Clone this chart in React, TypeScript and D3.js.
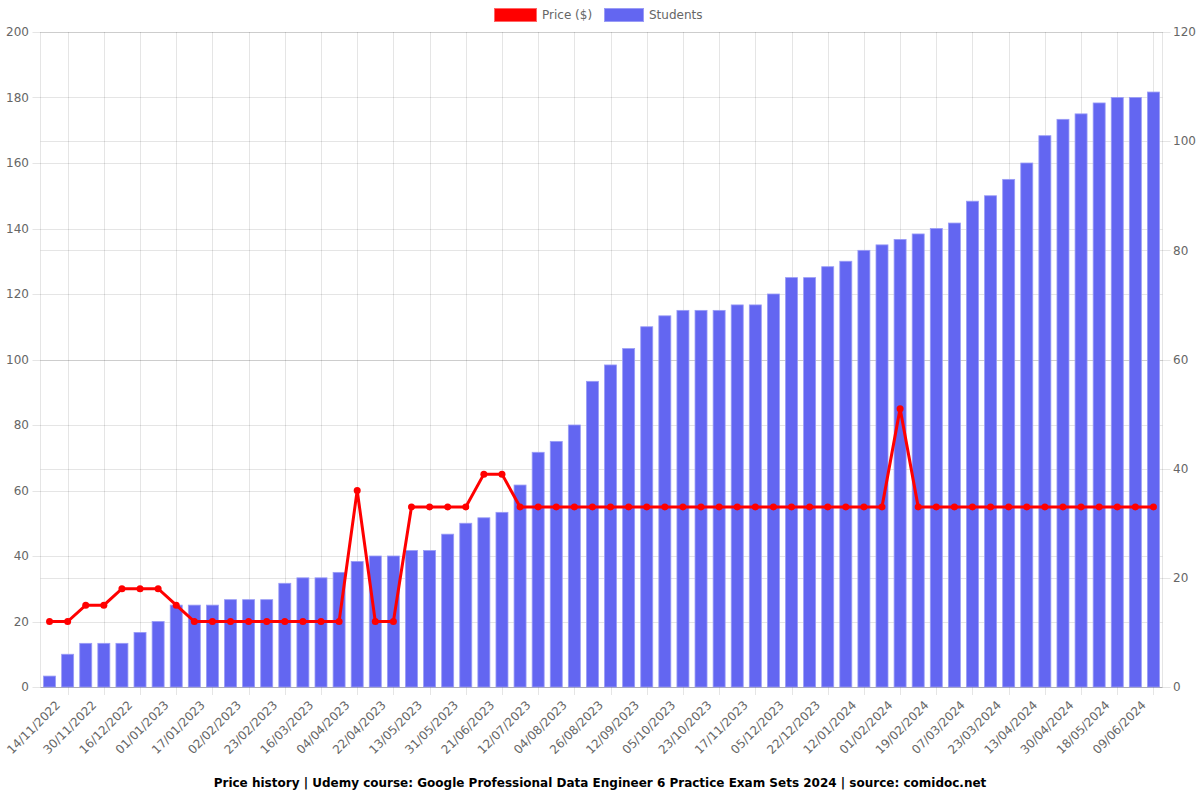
import React from "react";
import * as d3 from "d3";

const dates = [
  "14/11/2022", "22/11/2022", "30/11/2022", "08/12/2022", "16/12/2022", "24/12/2022",
  "01/01/2023", "09/01/2023", "17/01/2023", "25/01/2023", "02/02/2023", "12/02/2023",
  "23/02/2023", "06/03/2023", "16/03/2023", "25/03/2023", "04/04/2023", "13/04/2023",
  "22/04/2023", "02/05/2023", "13/05/2023", "22/05/2023", "31/05/2023", "10/06/2023",
  "21/06/2023", "01/07/2023", "12/07/2023", "23/07/2023", "04/08/2023", "15/08/2023",
  "26/08/2023", "04/09/2023", "12/09/2023", "23/09/2023", "05/10/2023", "14/10/2023",
  "23/10/2023", "04/11/2023", "17/11/2023", "26/11/2023", "05/12/2023", "13/12/2023",
  "22/12/2023", "02/01/2024", "12/01/2024", "22/01/2024", "01/02/2024", "10/02/2024",
  "19/02/2024", "27/02/2024", "07/03/2024", "15/03/2024", "23/03/2024", "02/04/2024",
  "13/04/2024", "21/04/2024", "30/04/2024", "09/05/2024", "18/05/2024", "28/05/2024",
  "09/06/2024", "18/06/2024",
];

const price = [
  20, 20, 25, 25, 30, 30, 30, 25, 20, 20, 20, 20, 20, 20, 20, 20, 20, 60, 20, 20,
  55, 55, 55, 55, 65, 65, 55, 55, 55, 55, 55, 55, 55, 55, 55, 55, 55, 55, 55, 55,
  55, 55, 55, 55, 55, 55, 55, 85, 55, 55, 55, 55, 55, 55, 55, 55, 55, 55, 55, 55,
  55, 55,
];

const students = [
  2, 6, 8, 8, 8, 10, 12, 15, 15, 15, 16, 16, 16, 19, 20, 20, 21, 23, 24, 24,
  25, 25, 28, 30, 31, 32, 37, 43, 45, 48, 56, 59, 62, 66, 68, 69, 69, 69, 70, 70,
  72, 75, 75, 77, 78, 80, 81, 82, 83, 84, 85, 89, 90, 93, 96, 101, 104, 105, 107, 108,
  108, 109,
];

const leftTicks = [0, 20, 40, 60, 80, 100, 120, 140, 160, 180, 200];
const rightTicks = [0, 20, 40, 60, 80, 100, 120];

const title =
  "Price history | Udemy course: Google Professional Data Engineer 6 Practice Exam Sets 2024 | source: comidoc.net";

const FONT = "DejaVu Sans, sans-serif";
const GRID = "rgba(0,0,0,0.1)";
const TXT = "#666";
const BAR = "#6366f1";

export default function App() {
  const left = 40.5;
  const right = 1162.5;
  const top = 32;
  const bottom = 687;

  const x = d3.scaleBand<number>().domain(d3.range(dates.length)).range([left, right]);
  const bw = x.bandwidth();
  const cx = (i: number) => (x(i) as number) + bw / 2;
  const yL = d3.scaleLinear().domain([0, 200]).range([bottom, top]);
  const yR = d3.scaleLinear().domain([0, 120]).range([bottom, top]);

  const line = d3
    .line<number>()
    .x((_, i) => cx(i))
    .y((d) => yL(d));

  const barW = 12;

  const gridX = d3.range(dates.length).filter((i) => i % 2 === 1).map(cx);

  return (
    <svg
      width={1200}
      height={800}
      style={{ position: "absolute", left: 0, top: 0, background: "#fff" }}
      fontFamily={FONT}
    >
      {/* horizontal grids */}
      {leftTicks.map((t) => (
        <line key={"gl" + t} x1={left - 8} x2={right} y1={Math.round(yL(t)) + 0.5} y2={Math.round(yL(t)) + 0.5} stroke={GRID} />
      ))}
      {rightTicks.map((t) => (
        <line key={"gr" + t} x1={left} x2={right + 8} y1={Math.round(yR(t)) + 0.5} y2={Math.round(yR(t)) + 0.5} stroke={GRID} />
      ))}
      {/* vertical grids */}
      {gridX.map((gx, i) => (
        <line key={"gx" + i} x1={Math.round(gx) + 0.5} x2={Math.round(gx) + 0.5} y1={top} y2={bottom + 8} stroke={GRID} />
      ))}
      <line x1={left} x2={left} y1={top} y2={bottom} stroke={GRID} />
      <line x1={right} x2={right} y1={top} y2={bottom} stroke={GRID} />
      <line x1={left} x2={right} y1={bottom + 0.5} y2={bottom + 0.5} stroke="rgba(0,0,0,0.15)" />

      {/* bars */}
      {students.map((s, i) => (
        <rect
          key={"b" + i}
          x={cx(i) - barW / 2}
          y={yR(s)}
          width={barW}
          height={bottom - yR(s)}
          fill={BAR}
          stroke="#9a9cf6"
          strokeWidth={0.8}
        />
      ))}

      {/* price line */}
      <path d={line(price) || ""} fill="none" stroke="#ff0000" strokeWidth={3} strokeLinejoin="miter" />
      {price.map((p, i) => (
        <circle key={"p" + i} cx={cx(i)} cy={yL(p)} r={3.5} fill="#ff0000" />
      ))}

      {/* left axis labels */}
      {leftTicks.map((t) => (
        <text key={"tl" + t} x={29} y={yL(t)} dy="0.35em" textAnchor="end" fontSize={12} fill={TXT}>
          {t}
        </text>
      ))}
      {/* right axis labels */}
      {rightTicks.map((t) => (
        <text key={"tr" + t} x={1173} y={yR(t)} dy="0.35em" textAnchor="start" fontSize={12} fill={TXT}>
          {t}
        </text>
      ))}

      {/* x labels */}
      {dates.map((d, i) =>
        i % 2 === 0 ? (
          <text
            key={"xl" + i}
            transform={`translate(${cx(i) + 8.5},${703}) rotate(-45)`}
            textAnchor="end"
            dominantBaseline="central"
            fontSize={12}
            fill={TXT}
          >
            {d}
          </text>
        ) : null
      )}

      {/* legend */}
      <rect x={494.5} y={8.5} width={42} height={13} fill="#ff0000" stroke="#ff6666" strokeWidth={1} />
      <text x={542} y={15} dy="0.35em" fontSize={12} fill={TXT}>
        Price ($)
      </text>
      <rect x={604.5} y={8.5} width={39} height={13} fill={BAR} stroke="#9a9cf6" strokeWidth={1} />
      <text x={649} y={15} dy="0.35em" fontSize={12} fill={TXT}>
        Students
      </text>

      {/* title */}
      <text x={600} y={783} dy="0.35em" textAnchor="middle" fontSize={12} fontWeight="bold" fill="#000">
        {title}
      </text>
    </svg>
  );
}
